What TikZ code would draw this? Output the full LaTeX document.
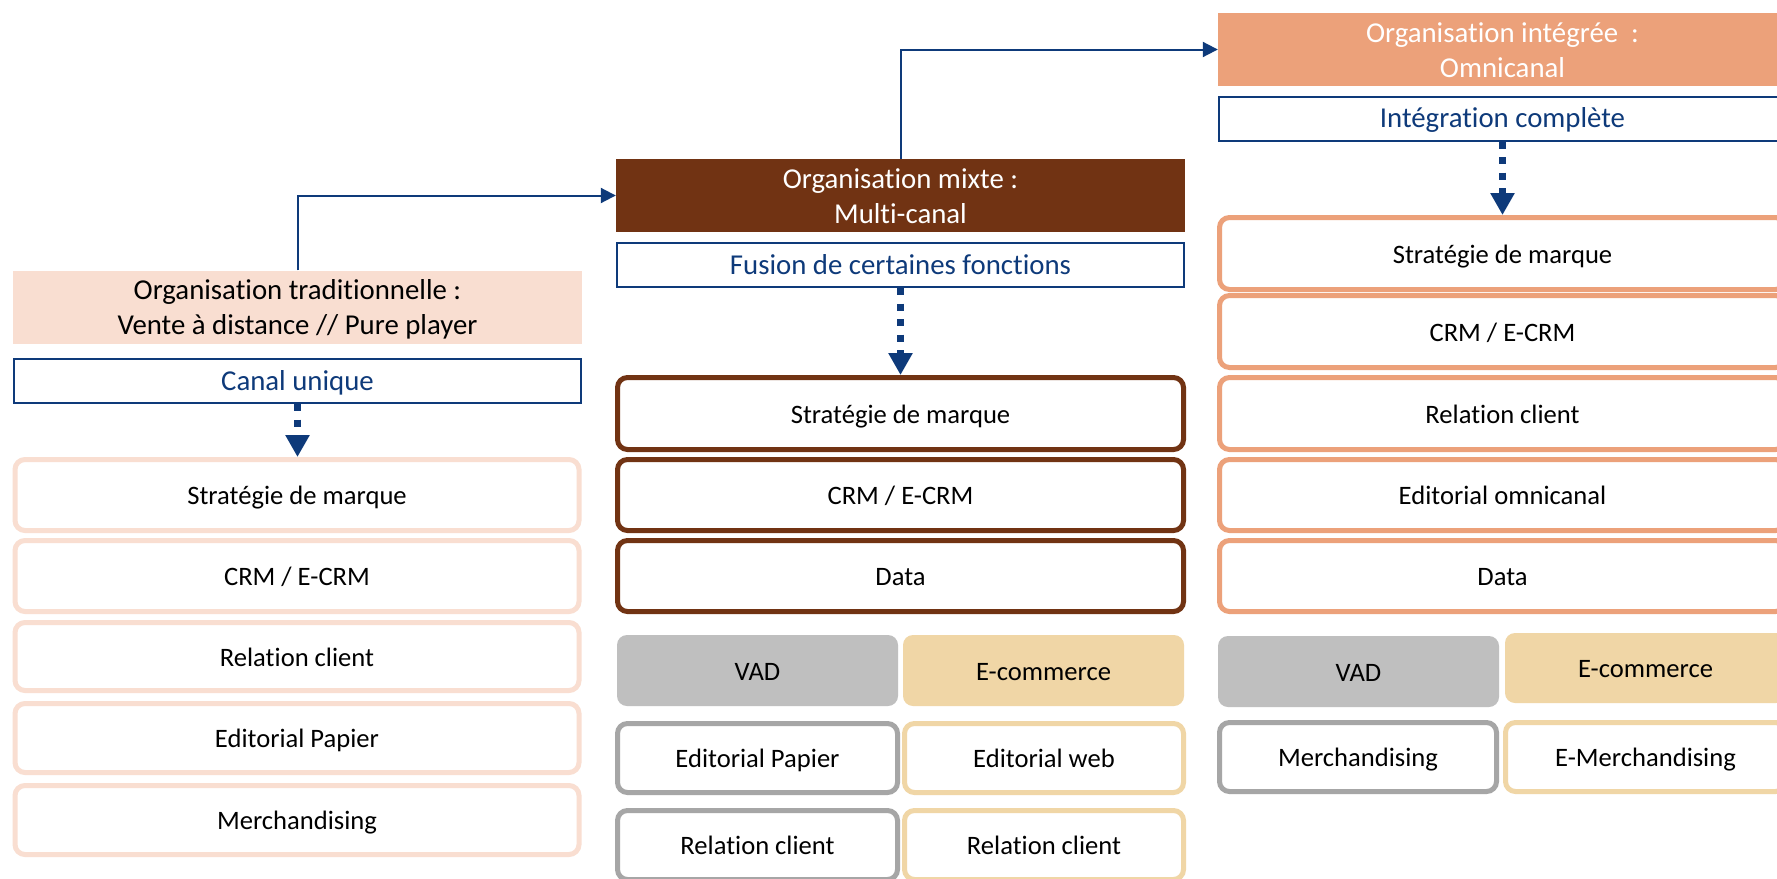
\documentclass[tikz,border=0pt]{standalone}
\usepackage{fontspec}
\setmainfont{Carlito}[Ligatures=NoCommon]
\usetikzlibrary{arrows.meta}

\definecolor{navy}{HTML}{0E3A7A}
\definecolor{peach}{HTML}{F9DED1}
\definecolor{brownc}{HTML}{713313}
\definecolor{salmon}{HTML}{ECA17A}
\definecolor{vadfill}{HTML}{BFBFBF}
\definecolor{vadline}{HTML}{A6A6A6}
\definecolor{ecom}{HTML}{F0D6A6}

\newcommand{\bodyfont}{\fontsize{26.6}{32}\selectfont}
\newcommand{\headfont}{\fontsize{28.8}{35}\selectfont}

\tikzset{
  x=1pt, y=-1pt,
  cell/.style={draw, rounded corners=10pt, line width=5pt, fill=white,
    inner sep=0pt, font=\bodyfont, text height=19.6pt, text depth=0pt},
  lcell/.style={cell, draw=peach, minimum width=564pt},
  mcell/.style={cell, draw=brownc, minimum width=566pt},
  rcell/.style={cell, draw=salmon, minimum width=566pt},
  tag/.style={rounded corners=10pt, inner sep=0pt, font=\bodyfont,
    text height=19.6pt, text depth=0pt, minimum width=281pt, minimum height=71pt},
  head/.style={inner sep=0pt, minimum width=569pt, minimum height=73pt,
    align=center, font=\headfont, text height=57pt, text depth=2pt},
  sub/.style={draw=navy, line width=2pt, fill=white, inner sep=0pt,
    minimum width=567pt, minimum height=44pt, font=\headfont, text=navy,
    text height=18pt, text depth=0pt},
  link/.style={draw=navy, line width=2pt, -{Triangle[length=15pt,width=15pt]}},
  flow/.style={draw=navy, line width=7.5pt, dash pattern=on 7pt off 8.5pt,
    -{Triangle[length=22pt,width=23pt]}},
}

\begin{document}
\begin{tikzpicture}
\useasboundingbox (0,0) rectangle (1777,878);
\fill[white] (0,0) rectangle (1777,878);
\clip (0,0) rectangle (1777,878);

% ---------- Organisation traditionnelle ----------
\node[head, fill=peach] (lh) at (297.5,307) {Organisation traditionnelle :\\Vente à distance // Pure player};
\node[sub] (cu) at (297.5,381) {Canal unique};

\node[lcell, minimum height=71pt] (l1) at (297,495)   {Stratégie de marque};
\node[lcell, minimum height=71pt] (l2) at (297,576)   {CRM / E-CRM};
\node[lcell, minimum height=68pt] (l3) at (297,656.5) {Relation client};
\node[lcell, minimum height=69pt] (l4) at (297,738)   {Editorial Papier};
\node[lcell, minimum height=69pt] (l5) at (297,820)   {Merchandising};

% ---------- Organisation mixte ----------
\node[head, fill=brownc, text=white] (mh) at (900.5,195.5) {Organisation mixte :\\Multi-canal};
\node[sub] (fu) at (900.5,265) {Fusion de certaines fonctions};

\node[mcell, minimum height=72pt] (m1) at (900.5,413.5) {Stratégie de marque};
\node[mcell, minimum height=71pt] (m2) at (900.5,495)   {CRM / E-CRM};
\node[mcell, minimum height=71pt] (m3) at (900.5,576)   {Data};

\node[tag, fill=vadfill] (mv) at (757.5,670.5)  {VAD};
\node[tag, fill=ecom]    (me) at (1043.5,670.5) {E-commerce};
\node[cell, draw=vadline, minimum width=280pt, minimum height=69pt] (mv1) at (757.5,758) {Editorial Papier};
\node[cell, draw=ecom,    minimum width=279pt, minimum height=69pt] (me1) at (1044,758)  {Editorial web};
\node[cell, draw=vadline, minimum width=280pt, minimum height=69pt] (mv2) at (757.5,845) {Relation client};
\node[cell, draw=ecom,    minimum width=279pt, minimum height=69pt] (me2) at (1044,845)  {Relation client};

% ---------- Organisation intégrée ----------
\node[head, fill=salmon, text=white] (rh) at (1502.5,49.5) {Organisation intégrée~ :\\Omnicanal};
\node[sub] (ig) at (1502.5,118.5) {Intégration complète};

\node[rcell, minimum height=72pt] (r1) at (1502.5,253.5) {Stratégie de marque};
\node[rcell, minimum height=72pt] (r2) at (1502.5,331.5) {CRM / E-CRM};
\node[rcell, minimum height=72pt] (r3) at (1502.5,413.5) {Relation client};
\node[rcell, minimum height=71pt] (r4) at (1502.5,495)   {Editorial omnicanal};
\node[rcell, minimum height=71pt] (r5) at (1502.5,576)   {Data};

\node[tag, fill=vadfill] (rv) at (1358.5,671.5) {VAD};
\node[tag, fill=ecom, minimum height=70pt] (re) at (1645.5,668) {E-commerce};
\node[cell, draw=vadline, minimum width=277pt, minimum height=69pt] (rv1) at (1358,757)   {Merchandising};
\node[cell, draw=ecom,    minimum width=280pt, minimum height=69pt] (re1) at (1645.5,757) {E-Merchandising};

% ---------- connectors ----------
\draw[link] (lh.north) |- (mh.west);
\draw[link] (mh.north) |- (rh.west);

\draw[flow] (cu.south) -- (cu.south |- l1.north);
\draw[flow] (fu.south) -- (fu.south |- m1.north);
\draw[flow] (ig.south) -- (ig.south |- r1.north);
\end{tikzpicture}
\end{document}
